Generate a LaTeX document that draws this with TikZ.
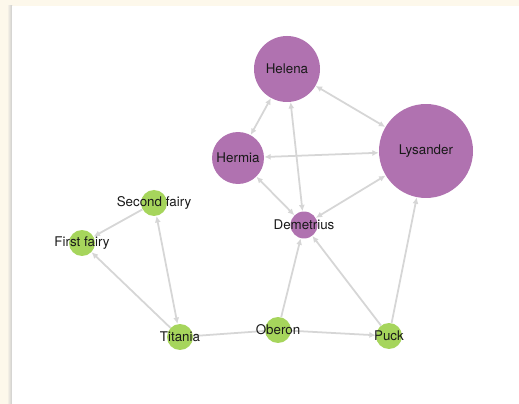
\documentclass[tikz,border=0pt]{standalone}
\usepackage{fontspec}
\setmainfont{TeX Gyre Heros}
\usetikzlibrary{arrows.meta,backgrounds}
\definecolor{lovers}{RGB}{176,114,176}
\definecolor{fairies}{RGB}{166,213,92}
\definecolor{linkgray}{RGB}{214,214,214}
\definecolor{paper}{RGB}{253,248,235}
\begin{document}
\begin{tikzpicture}[x=0.02cm, y=-0.02cm,
  every label/.style={font=\fontsize{7.6}{9}\selectfont, text=black!90},
  lover/.style={circle, fill=lovers, inner sep=0pt},
  fairy/.style={circle, fill=fairies, inner sep=0pt, minimum size=0.52cm},
  link/.style={linkgray, line width=1pt},
  both/.style={link, {Latex[length=3.6pt,width=3.4pt]}-{Latex[length=3.6pt,width=3.4pt]}},
  one/.style={link, -{Latex[length=3.6pt,width=3.4pt]}}]
\useasboundingbox (0,0) rectangle (519,404);
% the characters
\node[lover, minimum size=1.32cm, label=center:Helena] (helena) at (287,69) {};
\node[lover, minimum size=1.88cm, label=center:Lysander] (lysander) at (426,151) {};
\node[lover, minimum size=1.04cm, label=center:Hermia] (hermia) at (238,158) {};
\node[lover, minimum size=0.54cm, label=center:Demetrius] (demetrius) at (304,225) {};
\node[fairy, label=center:Second fairy] (second) at (154,203) {};
\node[fairy, label=center:First fairy] (first) at (82,243) {};
\node[fairy, label=center:Titania] (titania) at (180,337) {};
\node[fairy, label=center:Oberon] (oberon) at (278,330) {};
\node[fairy, label=center:Puck] (puck) at (389,336) {};
\begin{pgfonlayer}{background}
\fill[paper] (0,0) rectangle (519,404);
\shade[left color=paper, right color=black!20] (7,6) rectangle (12,404);
\fill[white] (12,6) rectangle (519,404);
% links
\draw[both] (helena) -- (lysander);
\draw[both] (helena) -- (hermia);
\draw[both] (helena) -- (demetrius);
\draw[both] (hermia) -- (lysander);
\draw[both] (hermia) -- (demetrius);
\draw[both] (lysander) -- (demetrius);
\draw[one] (second) -- (first);
\draw[one] (titania) -- (first);
\draw[both] (second) -- (titania);
\draw[link] (titania) -- (oberon);
\draw[one] (oberon) -- (puck);
\draw[one] (oberon) -- (demetrius);
\draw[one] (puck) -- (demetrius);
\draw[one] (puck) -- (lysander);
\end{pgfonlayer}
\end{tikzpicture}
\end{document}
